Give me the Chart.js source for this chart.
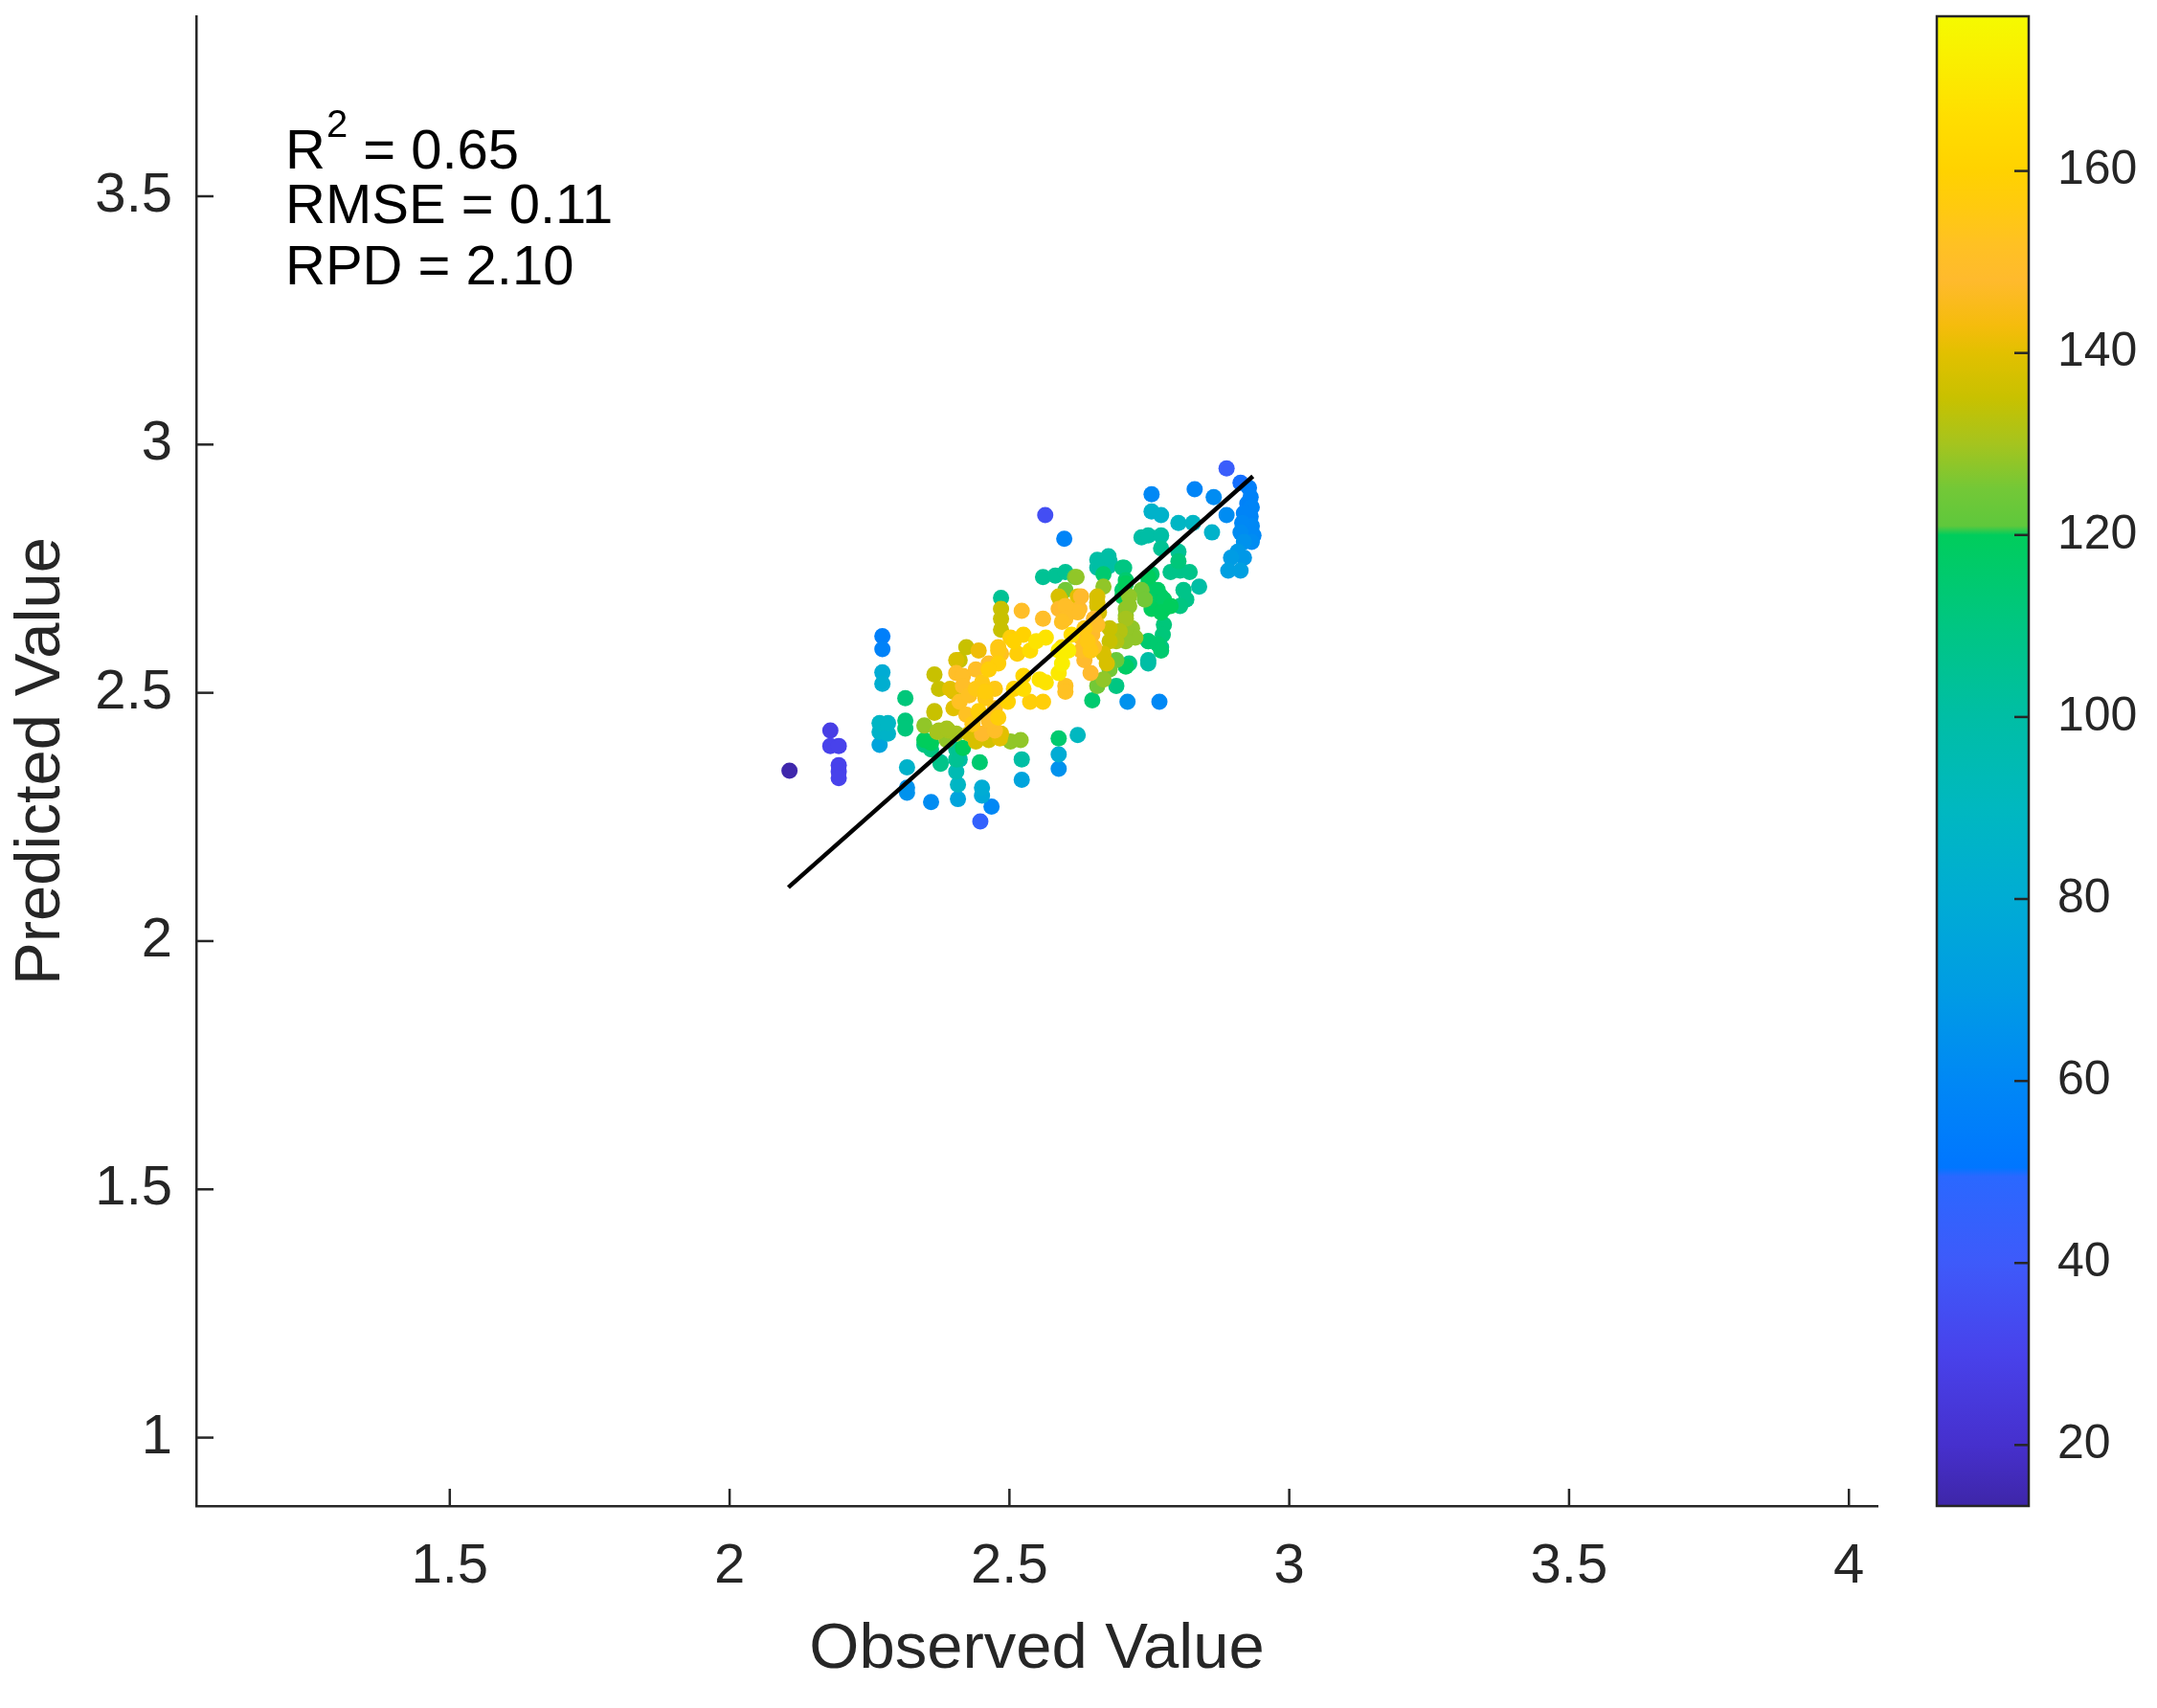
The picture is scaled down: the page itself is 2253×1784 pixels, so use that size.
<!DOCTYPE html>
<html><head><meta charset="utf-8">
<script src="https://cdn.jsdelivr.net/npm/chart.js@4.4.1/dist/chart.umd.min.js"></script>
<style>html,body{margin:0;padding:0;background:#fff;}canvas{display:block;}</style>
</head><body>
<canvas id="c" width="2253" height="1784"></canvas>
<script>
// ---------- data ----------
const obsX = [
2.107,2.180,2.180,2.195,2.195,2.195,2.195,2.273,2.273,2.273,
2.273,2.268,2.283,2.268,2.283,2.268,2.314,2.314,2.314,2.317,
2.317,2.317,2.360,2.366,2.374,2.366,2.348,2.348,2.360,2.374,
2.391,2.377,2.405,2.405,2.405,2.408,2.408,2.447,2.451,2.451,
2.468,2.448,2.423,2.411,2.445,2.405,2.417,2.440,2.463,2.480,
2.405,2.417,2.440,2.457,2.400,2.394,2.400,2.411,2.428,2.445,
2.423,2.434,2.463,2.480,2.405,2.428,2.451,2.474,2.485,2.388,
2.417,2.440,2.463,2.483,2.502,2.520,2.371,2.388,2.360,2.348,
2.377,2.411,2.366,2.485,2.485,2.485,2.485,2.522,2.560,2.560,
2.582,2.600,2.617,2.600,2.591,2.622,2.657,2.588,2.605,2.594,
2.622,2.657,2.657,2.648,2.668,2.657,2.677,2.679,2.702,2.708,
2.702,2.708,2.708,2.697,2.691,2.719,2.725,2.748,2.754,2.759,
2.765,2.771,2.776,2.748,2.771,2.748,2.708,2.691,2.679,2.668,
2.657,2.691,2.648,2.711,2.768,2.634,2.645,2.628,2.628,2.645,
2.588,2.594,2.588,2.605,2.600,2.600,2.565,2.548,2.525,2.508,
2.537,2.514,2.485,2.480,2.463,2.554,2.565,2.525,2.508,2.497,
2.537,2.560,2.525,2.474,2.457,2.474,2.468,2.480,2.502,2.451,
2.588,2.622,2.588,2.588,2.522,2.522,2.564,2.598,2.888,2.913,
2.928,2.931,2.933,2.931,2.933,2.936,2.933,2.925,2.919,2.916,
2.913,2.919,2.908,2.888,2.896,2.891,2.919,2.913,2.754,2.831,
2.865,2.754,2.771,2.802,2.828,2.862,2.736,2.748,2.771,2.771,2.802,
2.657,2.677,2.705,2.668,2.620,2.708,2.702,2.748,2.788,2.805,
2.822,2.802,2.839,2.811,2.816,2.736,2.742,2.765,2.776,2.754,
2.771,2.788,2.805,2.776,2.774,2.748,2.765,2.771,2.748,2.714,
2.708,2.708,2.708,2.714,2.714,2.679,2.679,2.668,2.674,2.657,
2.660,2.651,2.628,2.625,2.600,2.600,2.588,2.634,2.640,2.611,2.594,2.651
];
const predY = [
2.343,2.424,2.393,2.393,2.354,2.341,2.328,2.614,2.588,2.541,
2.518,2.439,2.439,2.421,2.418,2.395,2.489,2.444,2.428,2.350,
2.309,2.299,2.280,2.537,2.508,2.460,2.434,2.395,2.386,2.424,
2.424,2.357,2.386,2.366,2.341,2.315,2.286,2.360,2.309,2.293,
2.271,2.241,2.592,2.566,2.585,2.540,2.534,2.547,2.559,2.592,
2.566,2.514,2.508,2.502,2.502,2.508,2.469,2.482,2.495,2.463,
2.456,2.437,2.444,2.450,2.418,2.418,2.418,2.424,2.418,2.405,
2.389,2.402,2.405,2.408,2.402,2.405,2.421,2.428,2.399,2.405,
2.360,2.366,2.463,2.691,2.669,2.649,2.627,2.665,2.649,2.733,
2.736,2.743,2.733,2.707,2.688,2.694,2.694,2.669,2.669,2.643,
2.662,2.675,2.637,2.617,2.714,2.752,2.755,2.765,2.752,2.720,
2.694,2.669,2.649,2.624,2.604,2.630,2.611,2.720,2.739,2.707,
2.682,2.694,2.669,2.604,2.592,2.559,2.553,2.566,2.547,2.527,
2.514,2.514,2.485,2.482,2.482,2.566,2.540,2.585,2.611,2.585,
2.585,2.559,2.540,2.585,2.514,2.502,2.611,2.604,2.617,2.604,
2.585,2.579,2.579,2.559,2.547,2.527,2.521,2.534,2.508,2.482,
2.482,2.482,2.508,2.508,2.489,2.469,2.444,2.585,2.611,2.521,
2.408,2.415,2.376,2.347,2.366,2.325,2.858,2.810,2.952,2.923,
2.913,2.894,2.874,2.855,2.836,2.817,2.804,2.881,2.862,2.842,
2.823,2.804,2.784,2.858,2.772,2.746,2.772,2.746,2.900,2.910,
2.894,2.865,2.858,2.842,2.842,2.823,2.813,2.817,2.817,2.791,2.784,
2.768,2.775,2.752,2.739,2.733,2.727,2.707,2.733,2.743,2.746,
2.743,2.765,2.714,2.707,2.688,2.707,2.688,2.707,2.688,2.669,
2.662,2.675,2.675,2.637,2.617,2.604,2.598,2.585,2.566,2.559,
2.656,2.630,2.604,2.694,2.675,2.630,2.604,2.579,2.559,2.682,
2.662,2.649,2.694,2.669,2.675,2.649,2.694,2.630,2.604,2.617,2.592,2.592
];
const density = [
14,28,30,30,30,30,30,55,57,80,
82,88,88,86,86,75,112,112,112,85,
65,65,62,135,135,135,128,110,110,130,
130,108,105,105,95,88,75,115,80,78,
60,45,135,135,142,150,150,150,150,155,
138,150,155,157,138,140,140,152,152,158,
152,155,150,158,130,138,148,150,140,128,
120,138,137,140,128,128,130,130,120,120,
100,100,135,105,135,135,135,150,150,105,
105,105,125,125,137,140,138,148,150,152,
150,138,150,148,128,100,100,100,110,120,
120,128,130,132,132,128,128,115,115,118,
118,118,118,108,108,100,118,123,125,128,
125,110,115,65,60,148,148,150,150,155,
172,172,170,172,152,152,168,168,160,160,
165,158,152,158,158,168,168,162,160,160,
158,158,165,155,155,150,150,155,158,155,
115,90,80,65,100,75,35,58,42,50,
55,57,58,58,60,60,62,57,58,60,
62,65,68,62,70,72,68,72,60,58,
62,85,85,88,88,85,100,100,100,105,105,
100,100,110,115,128,115,115,120,108,108,
108,112,100,108,108,125,125,118,118,120,
120,120,110,112,112,115,115,115,100,110,
128,128,128,128,128,135,135,138,138,138,
138,148,148,148,150,150,138,155,155,165,165,150
];
const fitX = [2.105, 2.935];
const fitY = [2.108, 2.936];
const xTicks = [1.5, 2, 2.5, 3, 3.5, 4];
const yTicks = [1, 1.5, 2, 2.5, 3, 3.5];
const cbTicks = [20, 40, 60, 80, 100, 120, 140, 160];
const cbMin = 13.3, cbMax = 177.0;
const r2Text = '0.65', rmseText = '0.11', rpdText = '2.10';

// colormap (value -> rgb)
const cmapVals = [13.3, 20, 30, 40, 49.5, 50.5, 60, 70, 80, 90, 100, 110, 120, 121, 125, 130, 135, 140, 143, 148, 152, 156, 160, 166, 172, 177];
const cmapRGB = [
[62,38,168],[70,48,205],[72,66,235],[62,90,250],[42,104,255],[0,118,255],[0,136,245],[0,156,228],[0,172,212],[0,184,192],
[0,190,165],[0,198,130],[0,205,92],[95,200,60],[115,200,55],[165,196,30],[200,193,0],[226,192,0],[245,188,12],[255,186,45],
[255,193,35],[255,202,15],[255,210,0],[255,222,0],[250,238,0],[245,250,0]];

function colorFor(v){
  if (v <= cmapVals[0]) return 'rgb(' + cmapRGB[0].join(',') + ')';
  for (let i = 1; i < cmapVals.length; i++) {
    if (v <= cmapVals[i]) {
      const t = (v - cmapVals[i-1]) / (cmapVals[i] - cmapVals[i-1]);
      const a = cmapRGB[i-1], b = cmapRGB[i];
      return 'rgb(' + [0,1,2].map(k => Math.round(a[k] + (b[k]-a[k])*t)).join(',') + ')';
    }
  }
  return 'rgb(' + cmapRGB[cmapRGB.length-1].join(',') + ')';
}

// draw low values first so high-density points are on top
const order = obsX.map((_, i) => i).sort((a, b) => density[a] - density[b]);
const pts = order.map(i => ({x: obsX[i], y: predY[i]}));
const cols = order.map(i => colorFor(density[i]));

const FONT = '"Liberation Sans", Arial, Helvetica, sans-serif';
const AX = '#262626';

const decor = {
  id: 'decor',
  afterDraw(chart) {
    const {ctx, chartArea: a, scales} = chart;
    const xs = scales.x, ys = scales.y, cb = scales.cb;
    ctx.save();
    ctx.strokeStyle = AX; ctx.lineWidth = 2.5; ctx.lineCap = 'butt';
    xTicks.forEach(v => { const p = xs.getPixelForValue(v); ctx.beginPath(); ctx.moveTo(p, a.bottom); ctx.lineTo(p, a.bottom - 18); ctx.stroke(); });
    yTicks.forEach(v => { const p = ys.getPixelForValue(v); ctx.beginPath(); ctx.moveTo(a.left, p); ctx.lineTo(a.left + 18, p); ctx.stroke(); });

    // colorbar
    const x0 = a.right + 62, x1 = a.right + 158;
    const yTop = cb.getPixelForValue(cbMax), yBot = cb.getPixelForValue(cbMin);
    const g = ctx.createLinearGradient(0, yBot, 0, yTop);
    cmapVals.forEach((v, i) => g.addColorStop(Math.min(1, Math.max(0, (v - cbMin) / (cbMax - cbMin))), 'rgb(' + cmapRGB[i].join(',') + ')'));
    ctx.fillStyle = g;
    ctx.fillRect(x0, yTop, x1 - x0, yBot - yTop);
    ctx.strokeRect(x0, yTop, x1 - x0, yBot - yTop);
    cbTicks.forEach(v => { const p = cb.getPixelForValue(v); ctx.beginPath(); ctx.moveTo(x1 - 15, p); ctx.lineTo(x1, p); ctx.stroke(); });

    // statistics text
    ctx.fillStyle = '#000';
    ctx.textAlign = 'left'; ctx.textBaseline = 'alphabetic';
    const tx = a.left + 93;
    ctx.font = '58px ' + FONT;
    ctx.fillText('R', tx, a.top + 159);
    let cx = tx + ctx.measureText('R').width + 1;
    ctx.font = '40px ' + FONT;
    ctx.fillText('2', cx, a.top + 126);
    cx += ctx.measureText('2').width;
    ctx.font = '58px ' + FONT;
    ctx.fillText(' = ' + r2Text, cx, a.top + 159);
    ctx.fillText('RMSE = ' + rmseText, tx, a.top + 216);
    ctx.fillText('RPD = ' + rpdText, tx, a.top + 280);
    ctx.restore();
  }
};

function noPadV(s){ s.paddingTop = 0; s.paddingBottom = 0; }

new Chart(document.getElementById('c'), {
  type: 'scatter',
  data: {
    datasets: [
      {
        label: 'fit',
        data: fitX.map((x, i) => ({x, y: fitY[i]})),
        showLine: true, borderColor: '#000', borderWidth: 4.5,
        pointRadius: 0, fill: false, order: 0
      },
      {
        label: 'samples',
        data: pts,
        backgroundColor: cols,
        borderWidth: 0,
        pointRadius: 8.5,
        order: 1
      }
    ]
  },
  options: {
    responsive: false, animation: false, devicePixelRatio: 1, events: [],
    layout: {padding: {top: 17, left: 0, right: 0, bottom: 0}},
    plugins: {legend: {display: false}, tooltip: {enabled: false}},
    scales: {
      x: {
        type: 'linear', position: 'bottom', min: 1.047, max: 4.051,
        afterBuildTicks: s => { s.ticks = xTicks.map(v => ({value: v})); },
        afterFit: s => { s.height = 211; s.paddingLeft = 0; s.paddingRight = 0; },
        grid: {display: false, drawTicks: false},
        border: {display: true, color: AX, width: 2.5},
        ticks: {color: AX, padding: 29, font: {family: FONT, size: 58}, maxRotation: 0, callback: v => String(v)},
        title: {display: true, text: 'Observed Value', color: AX, font: {family: FONT, size: 67}, padding: {top: 0, bottom: 20}}
      },
      y: {
        type: 'linear', position: 'left', min: 0.8623, max: 3.8625,
        afterBuildTicks: s => { s.ticks = yTicks.map(v => ({value: v})); },
        afterFit: s => { s.width = 205; noPadV(s); },
        grid: {display: false, drawTicks: false},
        border: {display: true, color: AX, width: 2.5},
        ticks: {color: AX, padding: 25, font: {family: FONT, size: 58}, callback: v => String(v)},
        title: {display: true, text: 'Predicted Value', color: AX, font: {family: FONT, size: 67}, padding: {top: 3, bottom: 0}}
      },
      cb: {
        type: 'linear', position: 'right', axis: 'y', min: cbMin, max: cbMax,
        afterBuildTicks: s => { s.ticks = cbTicks.map(v => ({value: v})); },
        afterFit: s => { s.width = 292; noPadV(s); },
        grid: {display: false, drawTicks: false},
        border: {display: false},
        ticks: {color: AX, padding: 188, font: {family: FONT, size: 50}, callback: v => String(v)}
      }
    }
  },
  plugins: [decor]
});
</script>
</body></html>
